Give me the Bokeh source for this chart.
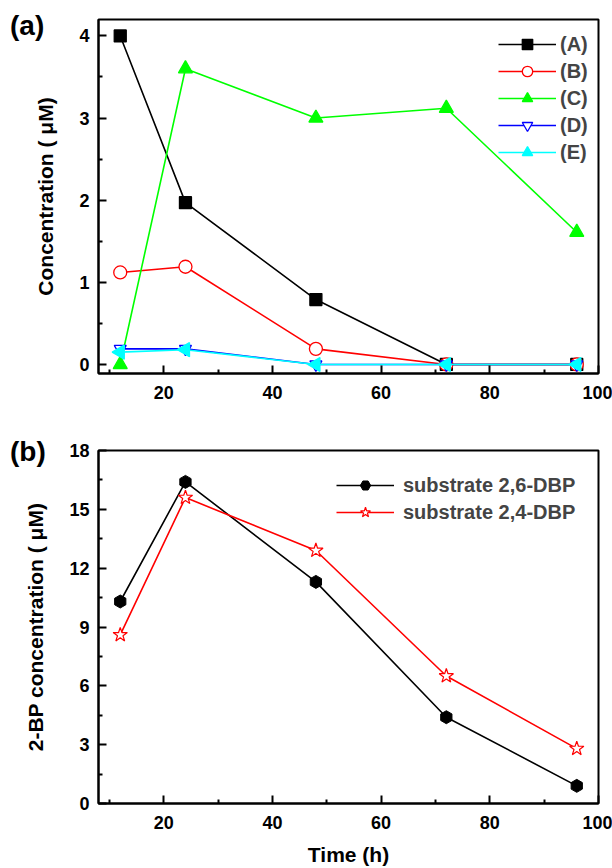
import math
from bokeh.plotting import figure
from bokeh.models import Legend, LegendItem, Range1d, FixedTicker, Div
from bokeh.layouts import column
from bokeh.embed import file_html
from bokeh.resources import INLINE

# ---------------- data ----------------
time_h = [12, 24, 48, 72, 96]
conc_A = [4.0, 1.97, 0.79, 0.0, 0.0]
conc_B = [1.12, 1.19, 0.19, 0.0, 0.0]
conc_C = [0.0, 3.6, 3.0, 3.12, 1.61]
conc_D = [0.19, 0.19, 0.0, 0.0, 0.0]
conc_E = [0.15, 0.18, 0.0, 0.0, 0.0]
labels_a = ["(A)", "(B)", "(C)", "(D)", "(E)"]

bp_26 = [10.3, 16.4, 11.3, 4.4, 0.9]
bp_24 = [8.6, 15.6, 12.9, 6.5, 2.8]
labels_b = ["substrate 2,6-DBP", "substrate 2,4-DBP"]

x_ticks = [20, 40, 60, 80, 100]
ya_ticks = [0, 1, 2, 3, 4]
yb_ticks = [0, 3, 6, 9, 12, 15, 18]
panel_letters = ["(a)", "(b)"]

FONT = "Liberation Sans"


def style(p, xt, yt, xminor, yminor):
    p.toolbar_location = None
    p.outline_line_color = "black"
    p.outline_line_width = 2
    p.xgrid.visible = False
    p.ygrid.visible = False
    for ax in (p.xaxis[0], p.yaxis[0]):
        ax.axis_line_width = 2
        ax.major_tick_in = 8
        ax.major_tick_out = 0
        ax.minor_tick_in = 4
        ax.minor_tick_out = 0
        ax.major_tick_line_width = 2
        ax.minor_tick_line_width = 2
        ax.major_label_text_font = FONT
        ax.major_label_text_font_style = "bold"
        ax.major_label_text_font_size = "18px"
        ax.major_label_text_color = "black"
        ax.axis_label_text_font = FONT
        ax.axis_label_text_font_style = "bold"
        ax.axis_label_text_color = "black"
    p.xaxis[0].ticker = FixedTicker(ticks=xt, minor_ticks=xminor)
    p.yaxis[0].ticker = FixedTicker(ticks=yt, minor_ticks=yminor)
    p.xaxis[0].major_label_standoff = 12
    p.yaxis[0].major_label_standoff = 9
    p.yaxis[0].axis_label_standoff = 19
    p.yaxis[0].axis_label_text_font_size = "21px"
    p.xaxis[0].axis_label_text_font_size = "21px"


def legend(items, loc, standoff):
    return Legend(items=items, location=loc, padding=0, margin=0, spacing=1,
                  glyph_width=58, glyph_height=26, label_height=20,
                  label_standoff=standoff, border_line_color=None,
                  background_fill_alpha=0, label_text_font=FONT,
                  label_text_font_style="bold", label_text_font_size="20px")


def letter_div(text, top):
    return Div(text=text, styles={"position": "absolute", "left": "5px",
                                  "top": f"{top}px", "font-family": FONT,
                                  "font-weight": "bold", "font-size": "28px",
                                  "line-height": "28px", "color": "black"})


# ---------------- panel (a) ----------------
pa = figure(width=612, height=428, output_backend="svg", toolbar_location=None,
            x_range=Range1d(8, 100), y_range=Range1d(-0.11, 4.2),
            min_border_left=98, min_border_right=14, min_border_top=19,
            min_border_bottom=55)
style(pa, x_ticks, ya_ticks, [10, 30, 50, 70, 90], [0.5, 1.5, 2.5, 3.5])
pa.yaxis[0].axis_label = "Concentration ( \u03bcM)"

series_a = [conc_A, conc_B, conc_C, conc_D, conc_E]
colors_a = ["#000000", "#ff0000", "#00ff00", "#0000ff", "#00ffff"]
markers_a = ["square", "circle", "triangle", "inverted_triangle", "triangle"]
fills_a = ["#000000", "#ffffff", "#00ff00", "#ffffff", "#00ffff"]
sizes_a = [12, 13, 14, 12, 14]
angles_a = [0, 0, 0, 0, math.pi / 2]
items_a = []
for ys, c, m, f, s, ang, lab in zip(series_a, colors_a, markers_a, fills_a, sizes_a, angles_a, labels_a):
    lr = pa.line(time_h, ys, line_color=c, line_width=1.6)
    sr = pa.scatter(time_h, ys, marker=m, size=s, fill_color=f, line_color=c,
                    line_width=1.3, angle=ang)
    items_a.append(LegendItem(label=lab, renderers=[lr, sr]))

pa.add_layout(legend(items_a, (400, 208), 4))

# ---------------- panel (b) ----------------
pb = figure(width=612, height=440, output_backend="svg", toolbar_location=None,
            x_range=Range1d(8, 100), y_range=Range1d(0, 18),
            min_border_left=98, min_border_right=14, min_border_top=22,
            min_border_bottom=65)
style(pb, x_ticks, yb_ticks, [10, 30, 50, 70, 90], [1.5, 4.5, 7.5, 10.5, 13.5, 16.5])
pb.yaxis[0].axis_label = "2-BP concentration ( \u03bcM)"
pb.xaxis[0].axis_label = "Time (h)"
pb.xaxis[0].axis_label_standoff = 11

l1 = pb.line(time_h, bp_26, line_color="black", line_width=1.6)
s1 = pb.scatter(time_h, bp_26, marker="hex", size=13, fill_color="black",
                line_color="black", angle=math.pi / 2)
l2 = pb.line(time_h, bp_24, line_color="#ff0000", line_width=1.6)
s2 = pb.scatter(time_h, bp_24, marker="star", size=15, fill_color="white",
                line_color="#ff0000", line_width=1.2)

pb.add_layout(legend([LegendItem(label=labels_b[0], renderers=[l1, s1]),
                      LegendItem(label=labels_b[1], renderers=[l2, s2])],
                     (238, 278), 9))

layout = column(pa, pb, letter_div(panel_letters[0], 7),
                letter_div(panel_letters[1], 433), spacing=0)
open("out.html", "w").write(file_html(layout, INLINE))
